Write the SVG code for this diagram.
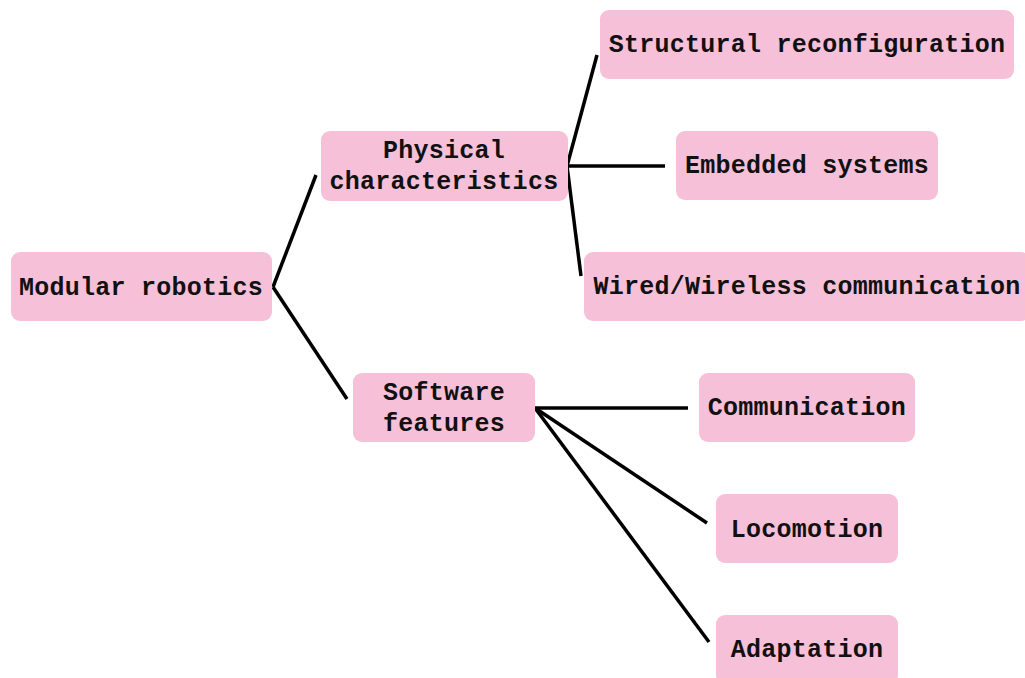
<svg xmlns="http://www.w3.org/2000/svg" width="1025" height="678" viewBox="0 0 1025 678">
  <style>
    .box { fill: #F6C0D9; }
    .lbl { font-family: "Liberation Mono", "Courier New", monospace; font-weight: bold; font-size: 25px; letter-spacing: 0.25px; fill: #111; text-anchor: middle; }
    .edge { stroke: #000; stroke-width: 3.5; fill: none; stroke-linecap: butt; }
  </style>
  <rect width="1025" height="678" fill="#fff"/>

  <!-- connectors -->
  <g id="connectors">
    <line class="edge" x1="273" y1="287" x2="316" y2="175"/>
    <line class="edge" x1="273" y1="287" x2="347" y2="399"/>
    <line class="edge" x1="567" y1="166" x2="597" y2="55"/>
    <line class="edge" x1="567" y1="166" x2="665" y2="166"/>
    <line class="edge" x1="567" y1="166" x2="581" y2="276"/>
    <line class="edge" x1="535" y1="408" x2="688" y2="408"/>
    <line class="edge" x1="535" y1="408" x2="707" y2="523"/>
    <line class="edge" x1="535" y1="408" x2="709" y2="642"/>
  </g>

  <!-- root -->
  <g id="modular-robotics">
    <rect class="box" x="11" y="252" width="261" height="69" rx="9"/>
    <text class="lbl" x="141" y="295">Modular robotics</text>
  </g>

  <!-- physical branch -->
  <g id="physical-characteristics">
    <rect class="box" x="321" y="131" width="247" height="70" rx="9"/>
    <text class="lbl" x="444" y="158">Physical</text>
    <text class="lbl" x="444" y="189">characteristics</text>
  </g>
  <g id="structural-reconfiguration">
    <rect class="box" x="600" y="10" width="414" height="69" rx="9"/>
    <text class="lbl" x="807" y="52">Structural reconfiguration</text>
  </g>
  <g id="embedded-systems">
    <rect class="box" x="676" y="131" width="262" height="69" rx="9"/>
    <text class="lbl" x="807" y="173">Embedded systems</text>
  </g>
  <g id="wired-wireless-communication">
    <rect class="box" x="584" y="252" width="446" height="69" rx="9"/>
    <text class="lbl" x="807" y="294">Wired/Wireless communication</text>
  </g>

  <!-- software branch -->
  <g id="software-features">
    <rect class="box" x="353" y="373" width="182" height="69" rx="9"/>
    <text class="lbl" x="444" y="400">Software</text>
    <text class="lbl" x="444" y="431">features</text>
  </g>
  <g id="communication">
    <rect class="box" x="699" y="373" width="216" height="69" rx="9"/>
    <text class="lbl" x="807" y="415">Communication</text>
  </g>
  <g id="locomotion">
    <rect class="box" x="716" y="494" width="182" height="69" rx="9"/>
    <text class="lbl" x="807" y="537">Locomotion</text>
  </g>
  <g id="adaptation">
    <rect class="box" x="716" y="615" width="182" height="69" rx="9"/>
    <text class="lbl" x="807" y="657">Adaptation</text>
  </g>
</svg>
